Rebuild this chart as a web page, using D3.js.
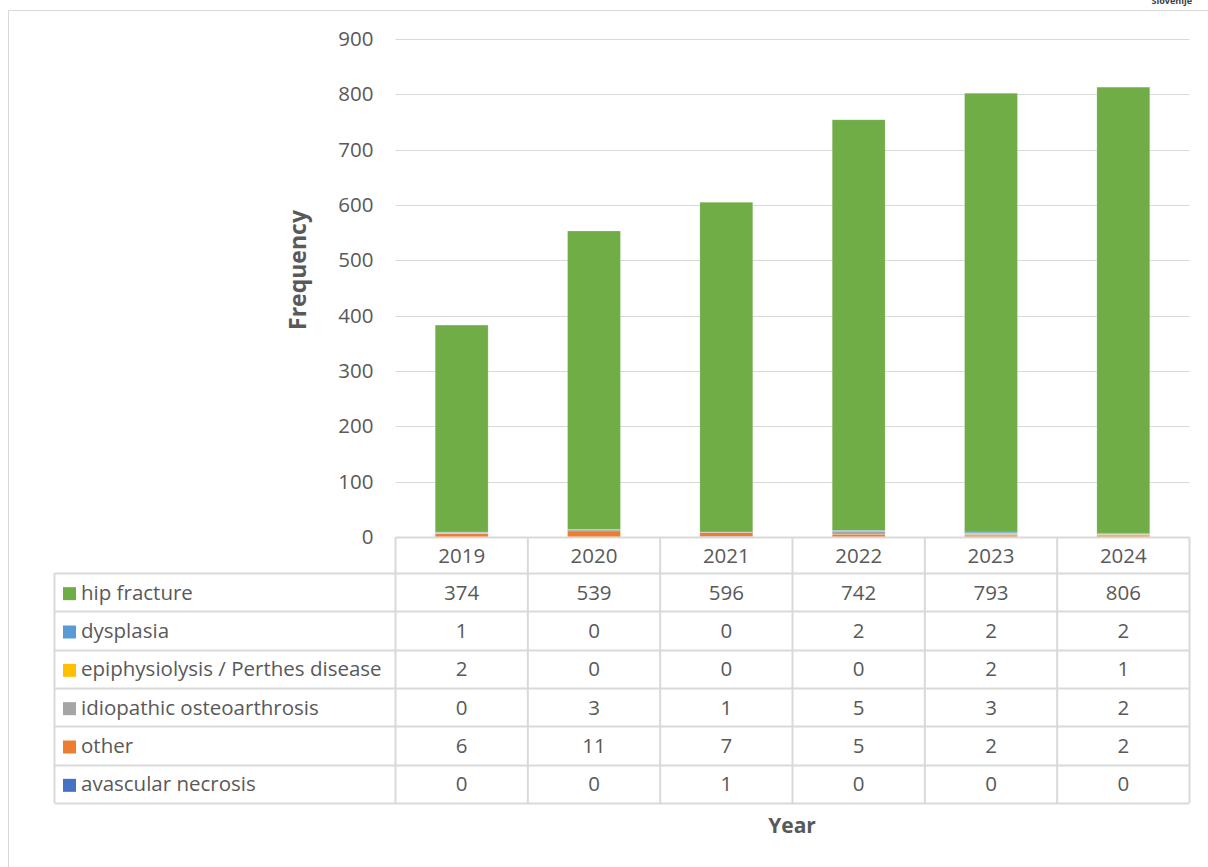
<!DOCTYPE html>
<html><head><meta charset="utf-8">
<script src="https://cdn.jsdelivr.net/npm/d3@7"></script>
<style>
html,body{margin:0;padding:0;background:#fff;}
svg{display:block;}
text{font-family:"Open Sans","Noto Sans",sans-serif;}
</style></head>
<body>
<svg id="c" width="1208" height="867"></svg>
<script>
const years = ["2019","2020","2021","2022","2023","2024"];
const seriesNames = ["hip fracture","dysplasia","epiphysiolysis / Perthes disease","idiopathic osteoarthrosis","other","avascular necrosis"];
const hipFracture = [374,539,596,742,793,806];
const dysplasia = [1,0,0,2,2,2];
const epiphysiolysis = [2,0,0,0,2,1];
const idiopathic = [0,3,1,5,3,2];
const other = [6,11,7,5,2,2];
const avascular = [0,0,1,0,0,0];
const seriesColors = ["#70AD47","#5B9BD5","#FFC000","#A5A5A5","#ED7D31","#4472C4"];
const yTicks = [0,100,200,300,400,500,600,700,800,900];

const seriesValues = [hipFracture,dysplasia,epiphysiolysis,idiopathic,other,avascular];
// stacking order bottom->top is reverse of table order
const stackKeys = seriesNames.slice().reverse();
const rows = years.map((y,i)=>{const o={year:y}; seriesNames.forEach((n,j)=>o[n]=seriesValues[j][i]); return o;});
const stacked = d3.stack().keys(stackKeys)(rows);
const color = d3.scaleOrdinal().domain(seriesNames).range(seriesColors);

const svg = d3.select("#c");
const textCol = "#595959", gridCol = "#d9d9d9";
const FS = 20.5;
const L=395.5, R=1189.5, T=39, B=537;
const x = d3.scaleBand().domain(years).range([L,R]).paddingInner(0.6).paddingOuter(0.3);
const xCol = d3.scaleBand().domain(years).range([L,R]);
const y = d3.scaleLinear().domain([0,900]).range([B,T]);

// outer frame
svg.append("path").attr("d","M8.5,867 V10.5 H1208").attr("fill","none").attr("stroke","#d9d9d9").attr("stroke-width",1);
svg.append("text").attr("x",1192).attr("y",4).attr("text-anchor","end").attr("font-size",9).attr("font-weight","bold").attr("fill","#404040").text("Slovenije");

// gridlines
svg.append("g").selectAll("line").data(yTicks.filter(d=>d>0)).join("line")
  .attr("x1",L).attr("x2",R).attr("y1",d=>Math.round(y(d))+0.5).attr("y2",d=>Math.round(y(d))+0.5)
  .attr("stroke",gridCol).attr("stroke-width",1);

// y axis labels
const yAxis = d3.axisLeft(y).tickValues(yTicks).tickSize(0).tickPadding(22);
const ga = svg.append("g").attr("transform",`translate(${L},0)`).call(yAxis);
ga.select(".domain").remove();
ga.selectAll("text").attr("font-size",FS).attr("fill",textCol).attr("font-family","'Open Sans',sans-serif");

// bars
svg.append("g").selectAll("g").data(stacked).join("g").attr("fill",d=>color(d.key))
  .selectAll("rect").data(d=>d).join("rect")
  .attr("x",d=>x(d.data.year)).attr("width",x.bandwidth())
  .attr("y",d=>y(d[1])).attr("height",d=>Math.max(0,y(d[0])-y(d[1])))
  .attr("stroke","#ffffff").attr("stroke-opacity",0.35).attr("stroke-width",0.6);

// data table
const tblLeft = 54.5, rowTop = 573;
const rowH = (803-573)/6;
const tg = svg.append("g");
tg.append("line").attr("x1",L).attr("x2",R).attr("y1",B+0.5).attr("y2",B+0.5).attr("stroke",gridCol).attr("stroke-width",2);
d3.range(7).forEach(i=>{
  const yy = Math.round(rowTop+i*rowH)+0.5;
  tg.append("line").attr("x1",tblLeft).attr("x2",R).attr("y1",yy).attr("y2",yy).attr("stroke",gridCol).attr("stroke-width",2);
});
tg.append("line").attr("x1",tblLeft).attr("x2",tblLeft).attr("y1",rowTop).attr("y2",803).attr("stroke",gridCol).attr("stroke-width",2);
years.forEach(yr=>{
  const xx = xCol(yr);
  tg.append("line").attr("x1",xx).attr("x2",xx).attr("y1",B).attr("y2",803).attr("stroke",gridCol).attr("stroke-width",2);
});
tg.append("line").attr("x1",R).attr("x2",R).attr("y1",B).attr("y2",803).attr("stroke",gridCol).attr("stroke-width",2);

tg.selectAll("text.yr").data(years).join("text").attr("class","yr")
  .attr("x",d=>xCol(d)+xCol.bandwidth()/2).attr("y",(B+rowTop)/2+7.5)
  .attr("text-anchor","middle").attr("font-size",FS).attr("fill",textCol).text(d=>d);

seriesNames.forEach((n,j)=>{
  const cy = rowTop + j*rowH + rowH/2;
  tg.append("rect").attr("x",63).attr("y",cy-5).attr("width",13).attr("height",13).attr("fill",seriesColors[j]);
  tg.append("text").attr("x",81).attr("y",cy+7.5).attr("font-size",FS).attr("fill",textCol).text(n);
  years.forEach((yr,i)=>{
    tg.append("text").attr("x",xCol(yr)+xCol.bandwidth()/2).attr("y",cy+7.5)
      .attr("text-anchor","middle").attr("font-size",FS).attr("fill",textCol).text(seriesValues[j][i]);
  });
});

// axis titles
svg.append("text").attr("transform","translate(306,270) rotate(-90)").attr("text-anchor","middle")
  .attr("font-size",23).attr("font-weight","bold").attr("fill",textCol).text("Frequency");
svg.append("text").attr("x",792).attr("y",833).attr("text-anchor","middle")
  .attr("font-size",21).attr("font-weight","bold").attr("fill",textCol).text("Year");
</script>
</body></html>
